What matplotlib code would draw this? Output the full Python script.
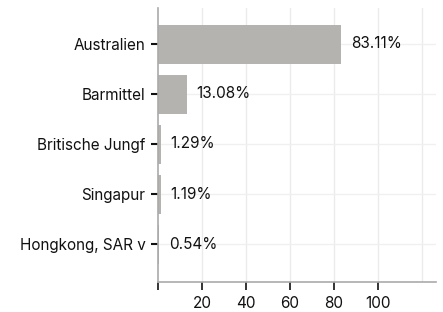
import matplotlib
matplotlib.use("Agg")
import matplotlib.pyplot as plt

categories = ["Australien", "Barmittel", "Britische Jungf", "Singapur", "Hongkong, SAR v"]
values = [83.11, 13.08, 1.29, 1.19, 0.54]
labels = ["83.11%", "13.08%", "1.29%", "1.19%", "0.54%"]
xticks = [0, 20, 40, 60, 80, 100]
xticklabels = ["", "20", "40", "60", "80", "100"]

plt.rcParams['font.family'] = ['Inter', 'DejaVu Sans']

fig = plt.figure(figsize=(4.43, 3.12), dpi=100)
ax = fig.add_axes([158/443, 1-282/312, (436-158)/443, (282-8)/312])

ypos = list(range(len(categories)))
ax.barh(ypos, values, height=0.78, color="#b4b3af", zorder=2)
for y, v, l in zip(ypos, values, labels):
    ax.text(v + 4.5, y, l, va="center", ha="left", fontsize=11, color="#111111", zorder=3)

ax.set_xlim(0, 126.4)
ax.set_ylim(4.76, -0.72)
ax.set_yticks(ypos)
ax.set_yticklabels(categories, fontsize=11, color="#111111")
ax.set_xticks(xticks)
ax.set_xticklabels(xticklabels, fontsize=11, color="#111111")

for x in [20, 40, 60, 80, 100, 120]:
    ax.axvline(x, color="#ebebeb", lw=1, zorder=0)
for y in ypos:
    ax.axhline(y, color="#f0f0f0", lw=1, zorder=0)

for s in ["top", "right"]:
    ax.spines[s].set_visible(False)
for s in ["left", "bottom"]:
    ax.spines[s].set_color("#aaaaaa")
    ax.spines[s].set_linewidth(1.2)

ax.tick_params(axis="y", length=5, width=1.5, color="#111111", pad=4)
ax.tick_params(axis="x", length=6, width=1.2, color="#111111", pad=4)

fig.savefig("out.png", dpi=100)
